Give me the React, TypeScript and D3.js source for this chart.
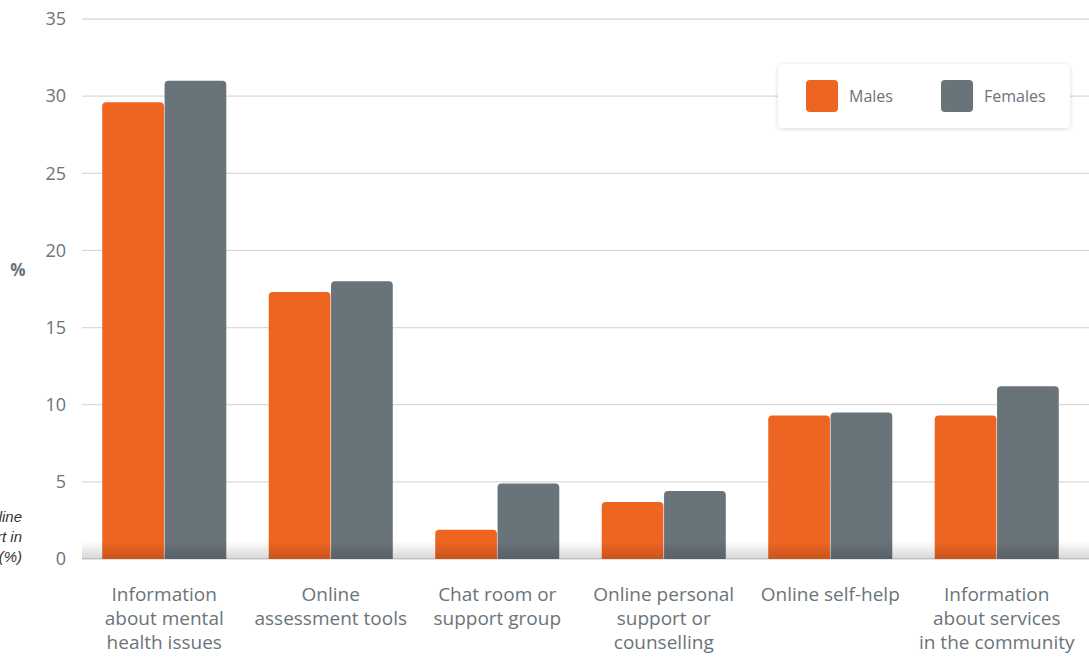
import React from "react";
import * as d3 from "d3";

const categories = [
  ["Information", "about mental", "health issues"],
  ["Online", "assessment tools"],
  ["Chat room or", "support group"],
  ["Online personal", "support or", "counselling"],
  ["Online self-help"],
  ["Information", "about services", "in the community"],
];
const males = [29.6, 17.3, 1.9, 3.7, 9.3, 9.3];
const females = [31.0, 18.0, 4.9, 4.4, 9.5, 11.2];
const seriesNames = ["Males", "Females"];
const yTicks = [0, 5, 10, 15, 20, 25, 30, 35];
const yTitleLines = ["Used online", "support in", "past year (%)"];

const W = 1089;
const H = 660;
const COLORS = ["#EE6522", "#69737A"];
const TEXT = "#6B747A";
const FONT = "'Open Sans', 'Noto Sans', sans-serif";

function topRounded(x: number, y: number, w: number, h: number, r: number) {
  const rr = Math.min(r, h, w / 2);
  return `M${x},${y + h}V${y + rr}Q${x},${y} ${x + rr},${y}H${x + w - rr}Q${x + w},${y} ${x + w},${y + rr}V${y + h}Z`;
}

export default function App() {
  const y = d3.scaleLinear().domain([0, 35]).range([559, 19]);
  const x0 = d3
    .scaleBand<number>()
    .domain(d3.range(categories.length))
    .range([81, 1080])
    .paddingInner(0.255)
    .paddingOuter(0.1275);
  const x1 = d3
    .scaleBand<number>()
    .domain([0, 1])
    .range([0, x0.bandwidth()])
    .paddingInner(0.01);
  const series = [males, females];

  return (
    <svg
      width={W}
      height={H}
      style={{ position: "absolute", left: 0, top: 0, background: "#fff" }}
      fontFamily={FONT}
    >
      <defs>
        <linearGradient id="shade" x1="0" y1="0" x2="0" y2="1">
          <stop offset="0" stopColor="#000" stopOpacity="0" />
          <stop offset="1" stopColor="#000" stopOpacity="0.16" />
        </linearGradient>
        <filter id="lshadow" x="-10%" y="-20%" width="120%" height="150%">
          <feDropShadow dx="0" dy="1" stdDeviation="2" floodColor="#000" floodOpacity="0.15" />
        </filter>
      </defs>
      {yTicks.map((t) => (
        <g key={t}>
          <line x1={82} x2={W} y1={y(t)} y2={y(t)} stroke="#DADADA" strokeWidth={1.3} />
          <text x={66} y={y(t)} dy="0.35em" textAnchor="end" fontSize={18} fill={TEXT}>
            {t}
          </text>
        </g>
      ))}
      <text x={18} y={270} dy="0.35em" textAnchor="middle" fontSize={17} fontWeight={700} fill={TEXT}>
        %
      </text>
      {yTitleLines.map((l, i) => (
        <text
          key={i}
          x={22}
          y={517 + i * 20}
          dy="0.35em"
          textAnchor="end"
          fontSize={15}
          fontStyle="italic"
          fill="#333"
          fontFamily="'Liberation Sans', Arial, sans-serif"
        >
          {l}
        </text>
      ))}
      {categories.map((c, i) => (
        <g key={i} transform={`translate(${x0(i)},0)`}>
          {series.map((s, j) => (
            <path
              key={j}
              d={topRounded(x1(j)!, y(s[i]), x1.bandwidth(), y(0) - y(s[i]), 4)}
              fill={COLORS[j]}
            />
          ))}
        </g>
      ))}
      <rect x={82} y={541} width={W - 82} height={18} fill="url(#shade)" />
      {categories.map((c, i) => (
        <text key={i} textAnchor="middle" fontSize={19} fill={TEXT}>
          {c.map((l, k) => (
            <tspan key={k} x={x0(i)! + x0.bandwidth() / 2} y={601 + k * 24}>
              {l}
            </tspan>
          ))}
        </text>
      ))}
      <g>
        <rect x={778} y={64} width={292} height={64} rx={5} fill="#fff" filter="url(#lshadow)" />
        {seriesNames.map((n, j) => (
          <g key={n} transform={`translate(${806 + j * 135},80)`}>
            <rect width={32} height={32} rx={4} fill={COLORS[j]} />
            <text x={43} y={16} dy="0.35em" fontSize={16} fill={TEXT}>
              {n}
            </text>
          </g>
        ))}
      </g>
    </svg>
  );
}
